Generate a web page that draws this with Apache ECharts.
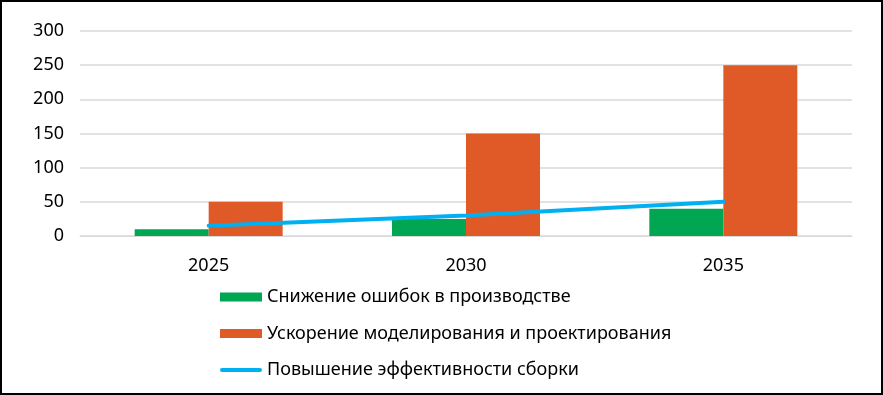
<!DOCTYPE html>
<html><head><meta charset="utf-8">
<script src="https://cdn.jsdelivr.net/npm/echarts@6/dist/echarts.min.js"></script>
<style>
html,body{margin:0;padding:0;background:#fff;}
#c{width:883px;height:395px;box-sizing:border-box;border:2px solid #000;}
</style></head><body>
<div id="c"></div>
<script>
const categories = ['2025', '2030', '2035'];
const seriesNames = ['Снижение ошибок в производстве', 'Ускорение моделирования и проектирования', 'Повышение эффективности сборки'];
const errorsReduction = [10, 25, 40];
const modelingSpeedup = [50, 150, 250];
const assemblyEfficiency = [15, 30, 50];
const yTicks = [0, 50, 100, 150, 200, 250, 300];

const font = 'Noto Sans';
const chart = echarts.init(document.getElementById('c'), null, {renderer: 'canvas'});
chart.setOption({
  animation: false,
  textStyle: {fontFamily: font},
  grid: {left: 78, right: 29, top: 29, bottom: 157},
  legend: {
    orient: 'vertical', left: 213, top: 281,
    itemWidth: 42, itemHeight: 9, itemGap: 18.5,
    textStyle: {fontFamily: font, fontSize: 18, color: '#000'},
    data: [
      {name: seriesNames[0], icon: 'rect'},
      {name: seriesNames[1], icon: 'rect'},
      {name: seriesNames[2], icon: 'path://M2,0 L40,0 A2,2 0 0 1 40,4 L2,4 A2,2 0 0 1 2,0 Z'}
    ]
  },
  xAxis: {
    type: 'category', data: categories,
    axisLine: {show: true, lineStyle: {color: '#d9d9d9'}},
    axisTick: {show: false},
    axisLabel: {fontSize: 18, color: '#000', margin: 21, fontFamily: font}
  },
  yAxis: {
    type: 'value', min: yTicks[0], max: yTicks[yTicks.length - 1], interval: 50,
    axisLine: {show: false}, axisTick: {show: false},
    splitLine: {lineStyle: {color: '#d9d9d9', width: 1.5}},
    axisLabel: {fontSize: 18, color: '#000', margin: 16, fontFamily: font}
  },
  series: [
    {name: seriesNames[0], type: 'bar', data: errorsReduction, barWidth: 74, barGap: '0%',
     itemStyle: {color: '#00A651'}},
    {name: seriesNames[1], type: 'bar', data: modelingSpeedup, barWidth: 74, barGap: '0%',
     itemStyle: {color: '#E05A27'}},
    {name: seriesNames[2], type: 'line', data: assemblyEfficiency, symbol: 'none', showSymbol: false,
     lineStyle: {color: '#00B0F0', width: 4, cap: 'round'}, itemStyle: {color: '#00B0F0'}, z: 5}
  ]
});
</script></body></html>
